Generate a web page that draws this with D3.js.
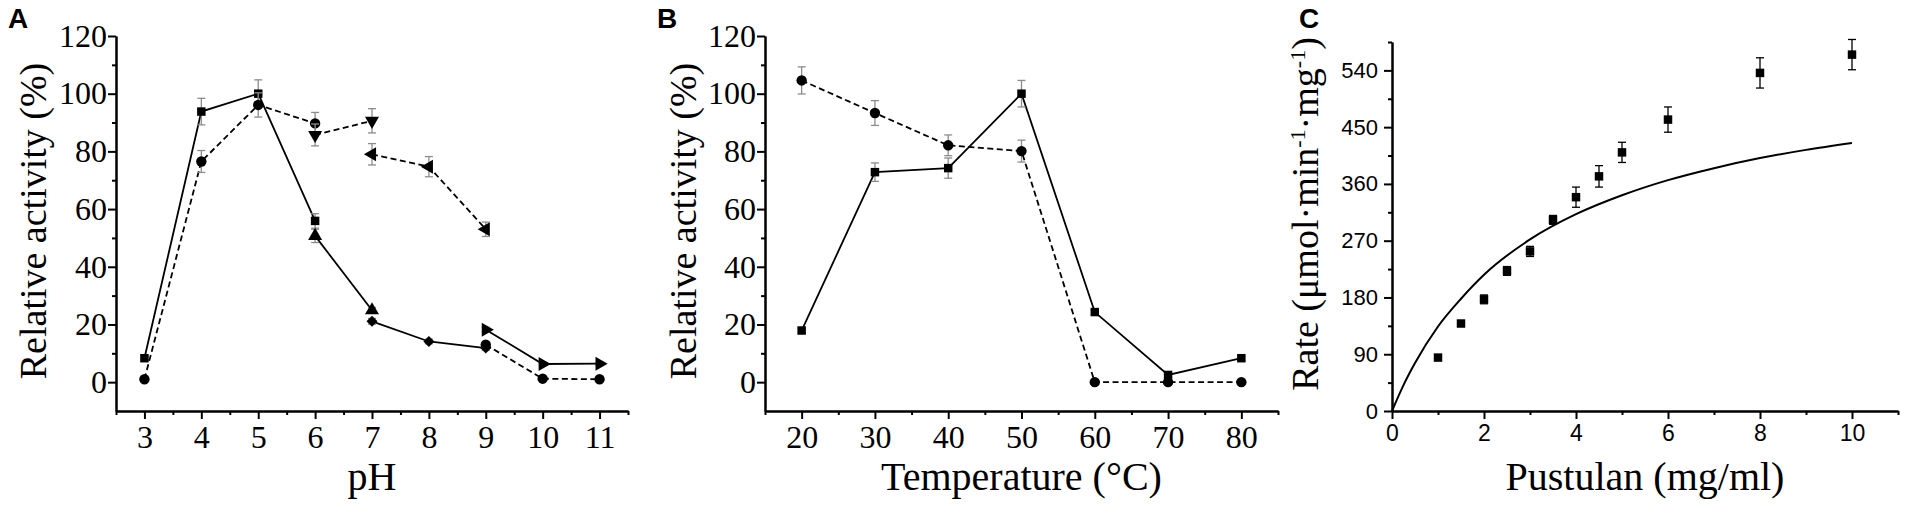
<!DOCTYPE html>
<html>
<head>
<meta charset="utf-8">
<script src="https://cdn.jsdelivr.net/npm/d3@7"></script>
<style>
  html, body { margin: 0; padding: 0; background: #fff; }
  svg { display: block; }
</style>
</head>
<body>
<script>
// ---- data ----

// A: pH profile, one x array per buffer system
const phCitrate = [3, 4, 5, 6];
const phPhosphate = [6, 7];
const phTris = [7, 8, 9];
const phGlycine = [9, 10, 11];

const actCitrate = [8.3, 93.8, 100, 55.9];
const actCitrateErr = [0.6, 4.6, 4.8, 2.5];
const actPhosphate = [50.7, 24.9];
const actPhosphateErr = [2.3, 1];
const actTris = [21.1, 14.1, 11.8];
const actTrisErr = [1, 0.8, 0.8];
const actGlycine = [18.2, 6.3, 6.4];
const actGlycineErr = [0.8, 0.5, 0.5];

const stabCitrate = [1, 76.5, 96.1, 89.7];
const stabCitrateErr = [0.5, 3.8, 4.2, 3.8];
const stabPhosphate = [85.7, 90.6];
const stabPhosphateErr = [3.8, 4.2];
const stabTris = [79, 74.7, 53];
const stabTrisErr = [3.7, 3.5, 2.5];
const stabGlycine = [13, 1.2, 1];
const stabGlycineErr = [0.8, 0.5, 0.5];

const phTicks = [3, 4, 5, 6, 7, 8, 9, 10, 11];
const phMinor = [2.5, 3.5, 4.5, 5.5, 6.5, 7.5, 8.5, 9.5, 10.5, 11.5];

// B: temperature profile
const temps = [20, 30, 40, 50, 60, 70, 80];
const tempAct = [17.9, 72.8, 74.2, 100, 24.3, 2.5, 8.3];
const tempActErr = [0.8, 3.2, 3.5, 4.6, 0.8, 1, 0.8];
const tempStab = [104.6, 93.3, 82.1, 80.1, 0, 0, 0];
const tempStabErr = [4.7, 4.3, 3.6, 3.8, 0, 0, 0];

const tempTicks = [20, 30, 40, 50, 60, 70, 80];
const tempMinor = [15, 25, 35, 45, 55, 65, 75, 85];

const activityTicks = [0, 20, 40, 60, 80, 100, 120];
const activityMinor = [10, 30, 50, 70, 90, 110];

// C: kinetics
const pustulan = [1, 1.5, 2, 2.5, 3, 3.5, 4, 4.5, 5, 6, 8, 10];
const rate = [84.7, 138.7, 177, 222, 253, 303, 339, 372, 410, 462, 536, 565];
const rateErr = [3, 4, 7, 7, 8, 7, 16, 17, 16, 20, 24, 24];
const fitConc = [0, 0.25, 0.5, 1, 1.5, 2, 3, 4, 5, 6, 7, 8, 9, 10];
const fitRate = [0, 41, 76, 134, 178, 216, 272, 312, 342, 366, 385, 401, 414, 425];

const rateTicks = [0, 90, 180, 270, 360, 450, 540];
const rateMinor = [45, 135, 225, 315, 405, 495, 585];
const concTicks = [0, 2, 4, 6, 8, 10];
const concMinor = [1, 3, 5, 7, 9, 11];

// ---- drawing ----

const width = 1908, height = 508;
const serif = "'Liberation Serif', 'Times New Roman', serif";
const sans = "'Liberation Sans', Arial, sans-serif";
const errGrey = "#8c8c8c";

const svg = d3.select("body").append("svg")
  .attr("width", width)
  .attr("height", height)
  .style("background", "#fff");

function drawAxes(p) {
  const g = svg.append("g");

  // minor ticks first, no labels
  g.append("g")
    .attr("transform", `translate(0,${p.y.range()[0]})`)
    .call(d3.axisBottom(p.x).tickValues(p.xMinor).tickSize(4).tickSizeOuter(0).tickFormat(""));
  g.append("g")
    .attr("transform", `translate(${p.x.range()[0]},0)`)
    .call(d3.axisLeft(p.y).tickValues(p.yMinor).tickSize(4).tickSizeOuter(0).tickFormat(""));

  const gx = g.append("g")
    .attr("transform", `translate(0,${p.y.range()[0]})`)
    .call(d3.axisBottom(p.x).tickValues(p.xTicks).tickSize(8).tickSizeOuter(0).tickPadding(p.xPad));
  const gy = g.append("g")
    .attr("transform", `translate(${p.x.range()[0]},0)`)
    .call(d3.axisLeft(p.y).tickValues(p.yTicks).tickSize(8).tickSizeOuter(0).tickPadding(p.yPad));

  gx.selectAll("text").style("font", `${p.xFont}px ${p.tickFamily}`).attr("fill", "#000");
  gy.selectAll("text").style("font", `${p.yFont}px ${p.tickFamily}`).attr("fill", "#000");

  g.selectAll(".domain, .tick line")
    .attr("stroke", "#000")
    .attr("stroke-width", 2);

  // axis titles
  const xMid = (p.x.range()[0] + p.x.range()[1]) / 2;
  svg.append("text")
    .attr("x", xMid)
    .attr("y", 490)
    .attr("text-anchor", "middle")
    .style("font", `40px ${serif}`)
    .text(p.xTitle);

  const yt = svg.append("text")
    .attr("transform", `translate(${p.yTitleX},${p.yTitleY}) rotate(-90)`)
    .attr("text-anchor", "middle")
    .style("font", `38px ${serif}`);
  p.yTitle(yt);

  svg.append("text")
    .attr("x", p.letterX)
    .attr("y", 28)
    .style("font", `bold 28px ${sans}`)
    .text(p.letter);
}

function drawSeries(p, xs, ys, errs, opts) {
  const pts = xs.map((d, i) => ({ x: d, y: ys[i], e: errs ? errs[i] : 0 }));

  if (opts.line !== false) {
    svg.append("path")
      .datum(pts)
      .attr("fill", "none")
      .attr("stroke", "#000")
      .attr("stroke-width", 1.8)
      .attr("stroke-dasharray", opts.dashed ? "6,3.5" : null)
      .attr("d", d3.line().x(d => p.x(d.x)).y(d => p.y(d.y)));
  }

  const eb = svg.append("g")
    .attr("stroke", opts.errColor || errGrey)
    .attr("stroke-width", 1.3)
    .selectAll("g")
    .data(pts.filter(d => d.e > 0))
    .join("g");
  eb.append("line")
    .attr("x1", d => p.x(d.x)).attr("x2", d => p.x(d.x))
    .attr("y1", d => p.y(d.y - d.e)).attr("y2", d => p.y(d.y + d.e));
  eb.append("line")
    .attr("x1", d => p.x(d.x) - 4).attr("x2", d => p.x(d.x) + 4)
    .attr("y1", d => p.y(d.y + d.e)).attr("y2", d => p.y(d.y + d.e));
  eb.append("line")
    .attr("x1", d => p.x(d.x) - 4).attr("x2", d => p.x(d.x) + 4)
    .attr("y1", d => p.y(d.y - d.e)).attr("y2", d => p.y(d.y - d.e));

  svg.append("g")
    .selectAll("path")
    .data(pts)
    .join("path")
    .attr("transform", d => `translate(${p.x(d.x)},${p.y(d.y)}) rotate(${opts.rotate || 0})`)
    .attr("d", d3.symbol().type(opts.symbol).size(opts.size || 72))
    .attr("fill", "#000");
}

// Panel A
const panelA = {
  x: d3.scaleLinear().domain([2.5, 11.5]).range([116, 628]),
  y: d3.scaleLinear().domain([-10, 120]).range([411, 36]),
  xTicks: phTicks, xMinor: phMinor,
  yTicks: activityTicks, yMinor: activityMinor,
  tickFamily: serif, xFont: 32, yFont: 32, xPad: 6, yPad: 1,
  xTitle: "pH",
  yTitleX: 46, yTitleY: 221,
  yTitle: t => t.text("Relative activity (%)"),
  letter: "A", letterX: 8
};
drawAxes(panelA);
drawSeries(panelA, phCitrate, actCitrate, actCitrateErr, { symbol: d3.symbolSquare });
drawSeries(panelA, phPhosphate, actPhosphate, actPhosphateErr, { symbol: d3.symbolTriangle, size: 85 });
drawSeries(panelA, phTris, actTris, actTrisErr, { symbol: d3.symbolSquare, rotate: 45, size: 60 });
drawSeries(panelA, phGlycine, actGlycine, actGlycineErr, { symbol: d3.symbolTriangle, rotate: 90, size: 85 });
drawSeries(panelA, phCitrate, stabCitrate, stabCitrateErr, { symbol: d3.symbolCircle, dashed: true, size: 85 });
drawSeries(panelA, phPhosphate, stabPhosphate, stabPhosphateErr, { symbol: d3.symbolTriangle, rotate: 180, dashed: true, size: 85 });
drawSeries(panelA, phTris, stabTris, stabTrisErr, { symbol: d3.symbolTriangle, rotate: -90, dashed: true, size: 85 });
drawSeries(panelA, phGlycine, stabGlycine, stabGlycineErr, { symbol: d3.symbolCircle, dashed: true, size: 85 });

// Panel B
const panelB = {
  x: d3.scaleLinear().domain([15, 85]).range([765, 1278]),
  y: d3.scaleLinear().domain([-10, 120]).range([411, 36]),
  xTicks: tempTicks, xMinor: tempMinor,
  yTicks: activityTicks, yMinor: activityMinor,
  tickFamily: serif, xFont: 32, yFont: 32, xPad: 6, yPad: 1,
  xTitle: "Temperature (\u00B0C)",
  yTitleX: 696, yTitleY: 221,
  yTitle: t => t.text("Relative activity (%)"),
  letter: "B", letterX: 657
};
drawAxes(panelB);
drawSeries(panelB, temps, tempStab, tempStabErr, { symbol: d3.symbolCircle, dashed: true, size: 85 });
drawSeries(panelB, temps, tempAct, tempActErr, { symbol: d3.symbolSquare });

// Panel C
const panelC = {
  x: d3.scaleLinear().domain([0, 11]).range([1392, 1898]),
  y: d3.scaleLinear().domain([0, 585]).range([411, 42]),
  xTicks: concTicks, xMinor: concMinor,
  yTicks: rateTicks, yMinor: rateMinor,
  tickFamily: sans, xFont: 23, yFont: 22, xPad: 6, yPad: 6,
  xTitle: "Pustulan (mg/ml)",
  yTitleX: 1318, yTitleY: 214,
  yTitle: t => {
    t.append("tspan").text("Rate (\u03BCmol\u00B7min");
    t.append("tspan").attr("dy", -13).style("font-size", "22px").text("-1");
    t.append("tspan").attr("dy", 13).text("\u00B7mg");
    t.append("tspan").attr("dy", -13).style("font-size", "22px").text("-1");
    t.append("tspan").attr("dy", 13).text(")");
  },
  letter: "C", letterX: 1299
};
drawAxes(panelC);

svg.append("path")
  .datum(fitConc.map((d, i) => [d, fitRate[i]]))
  .attr("fill", "none")
  .attr("stroke", "#000")
  .attr("stroke-width", 2)
  .attr("d", d3.line().x(d => panelC.x(d[0])).y(d => panelC.y(d[1])).curve(d3.curveMonotoneX));

drawSeries(panelC, pustulan, rate, rateErr, { symbol: d3.symbolSquare, line: false, errColor: "#000" });
</script>
</body>
</html>
